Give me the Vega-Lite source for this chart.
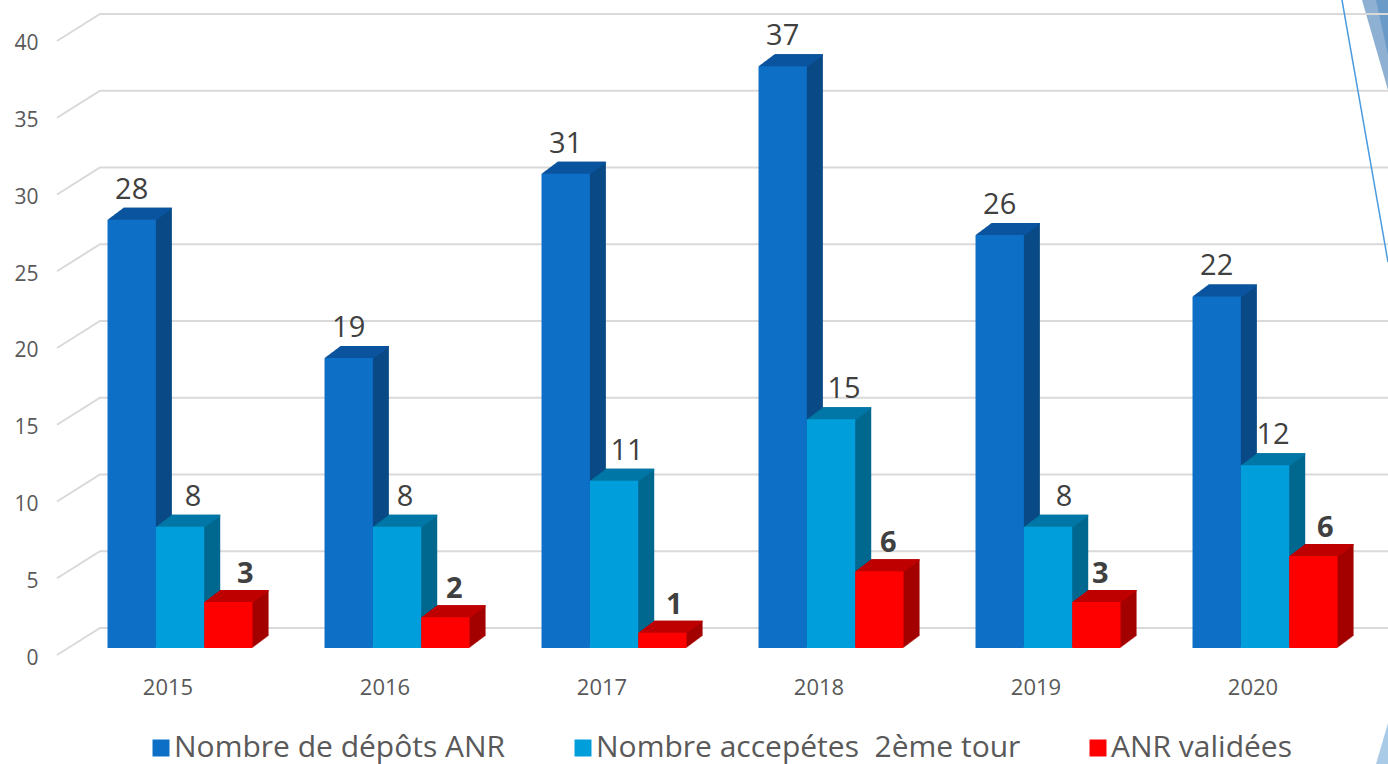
{"$schema":"https://vega.github.io/schema/vega-lite/v6.json","width":1331,"height":655,"autosize":{"type":"none"},"padding":{"left":57,"top":0,"right":0,"bottom":109},"background":"white","config":{"view":{"stroke":null},"font":"Open Sans","axisY":{"domain":false,"ticks":false,"grid":false,"labelPadding":19,"labelOffset":3,"labelFontSize":21,"labelColor":"#595959","labelFont":"Open Sans"},"rule":{"strokeWidth":48.4}},"datasets":{"bars":[{"annee":"2015","ordre":1,"serie":"Nombre de dépôts ANR","hauteur":27.9,"label":"28"},{"annee":"2015","ordre":2,"serie":"Nombre accepétes \u00a02ème tour","hauteur":7.9,"label":"8"},{"annee":"2015","ordre":3,"serie":"ANR validées","hauteur":3,"label":"3"},{"annee":"2016","ordre":1,"serie":"Nombre de dépôts ANR","hauteur":18.9,"label":"19"},{"annee":"2016","ordre":2,"serie":"Nombre accepétes \u00a02ème tour","hauteur":7.9,"label":"8"},{"annee":"2016","ordre":3,"serie":"ANR validées","hauteur":2,"label":"2"},{"annee":"2017","ordre":1,"serie":"Nombre de dépôts ANR","hauteur":30.9,"label":"31"},{"annee":"2017","ordre":2,"serie":"Nombre accepétes \u00a02ème tour","hauteur":10.9,"label":"11"},{"annee":"2017","ordre":3,"serie":"ANR validées","hauteur":1,"label":"1"},{"annee":"2018","ordre":1,"serie":"Nombre de dépôts ANR","hauteur":37.9,"label":"37"},{"annee":"2018","ordre":2,"serie":"Nombre accepétes \u00a02ème tour","hauteur":14.9,"label":"15"},{"annee":"2018","ordre":3,"serie":"ANR validées","hauteur":5,"label":"6"},{"annee":"2019","ordre":1,"serie":"Nombre de dépôts ANR","hauteur":26.9,"label":"26"},{"annee":"2019","ordre":2,"serie":"Nombre accepétes \u00a02ème tour","hauteur":7.9,"label":"8"},{"annee":"2019","ordre":3,"serie":"ANR validées","hauteur":3,"label":"3"},{"annee":"2020","ordre":1,"serie":"Nombre de dépôts ANR","hauteur":22.9,"label":"22"},{"annee":"2020","ordre":2,"serie":"Nombre accepétes \u00a02ème tour","hauteur":11.9,"label":"12"},{"annee":"2020","ordre":3,"serie":"ANR validées","hauteur":6,"label":"6"}]},"resolve":{"scale":{"x":"independent","xOffset":"independent"}},"layer":[{"layer":[{"data":{"values":[{"d":1305,"a":42.67,"b":42.67},{"d":1331,"a":42.67,"b":36.81}]},"mark":{"type":"area","color":"#8db0d3"},"encoding":{"x":{"field":"d","type":"quantitative","scale":{"domain":[0,1331],"range":[0,1331]},"axis":null},"y":{"field":"a","type":"quantitative","scale":{"domain":[0,42.67]},"axis":{"title":null,"values":[0,5,10,15,20,25,30,35,40]},"stack":null},"y2":{"field":"b"}}},{"data":{"values":[{"d":1319,"a":42.67,"b":42.67},{"d":1331,"a":42.67,"b":39.09}]},"mark":{"type":"area","color":"#6a9ac8"},"encoding":{"x":{"field":"d","type":"quantitative","scale":{"domain":[0,1331],"range":[0,1331]},"axis":null},"y":{"field":"a","type":"quantitative","scale":{"domain":[0,42.67]},"axis":{"title":null,"values":[0,5,10,15,20,25,30,35,40]},"stack":null},"y2":{"field":"b"}}},{"data":{"values":[{"d":1319,"a":-7.1,"b":-7.1},{"d":1331,"a":-4.43,"b":-7.1}]},"mark":{"type":"area","color":"#a9cbe8","clip":false},"encoding":{"x":{"field":"d","type":"quantitative","scale":{"domain":[0,1331],"range":[0,1331]},"axis":null},"y":{"field":"a","type":"quantitative","scale":{"domain":[0,42.67]},"axis":{"title":null,"values":[0,5,10,15,20,25,30,35,40]},"stack":null},"y2":{"field":"b"}}},{"data":{"values":[{"v":0,"d":0,"n":0},{"v":0,"d":43,"n":1.76},{"v":0,"d":1331,"n":1.76},{"v":5,"d":0,"n":5},{"v":5,"d":43,"n":6.76},{"v":5,"d":1331,"n":6.76},{"v":10,"d":0,"n":10},{"v":10,"d":43,"n":11.76},{"v":10,"d":1331,"n":11.76},{"v":15,"d":0,"n":15},{"v":15,"d":43,"n":16.76},{"v":15,"d":1331,"n":16.76},{"v":20,"d":0,"n":20},{"v":20,"d":43,"n":21.76},{"v":20,"d":1331,"n":21.76},{"v":25,"d":0,"n":25},{"v":25,"d":43,"n":26.76},{"v":25,"d":1331,"n":26.76},{"v":30,"d":0,"n":30},{"v":30,"d":43,"n":31.76},{"v":30,"d":1331,"n":31.76},{"v":35,"d":0,"n":35},{"v":35,"d":43,"n":36.76},{"v":35,"d":1331,"n":36.76},{"v":40,"d":0,"n":40},{"v":40,"d":43,"n":41.76},{"v":40,"d":1331,"n":41.76}]},"mark":{"type":"line","color":"#d9d9d9","strokeWidth":2},"encoding":{"x":{"field":"d","type":"quantitative","scale":{"domain":[0,1331],"range":[0,1331]},"axis":null},"y":{"field":"n","type":"quantitative","scale":{"domain":[0,42.67]},"axis":{"title":null,"values":[0,5,10,15,20,25,30,35,40]}},"detail":{"field":"v"}}},{"data":{"values":[{"d":1285,"n":42.67},{"d":1331,"n":25.6}]},"mark":{"type":"line","color":"#4a9be0","strokeWidth":1.5},"encoding":{"x":{"field":"d","type":"quantitative","scale":{"domain":[0,1331],"range":[0,1331]},"axis":null},"y":{"field":"n","type":"quantitative","scale":{"domain":[0,42.67]},"axis":{"title":null,"values":[0,5,10,15,20,25,30,35,40]}}}}]},{"data":{"name":"bars"},"resolve":{"scale":{"xOffset":"independent"}},"encoding":{"x":{"field":"annee","type":"nominal","scale":{"range":[14.5,1316.5],"paddingInner":0.332,"paddingOuter":0.166},"axis":{"title":null,"domain":false,"ticks":false,"labelAngle":0,"labelPadding":22,"labelOffset":-12,"labelFontSize":22,"labelColor":"#595959","labelFont":"Open Sans"}},"y":{"field":"hauteur","type":"quantitative","stack":null,"scale":{"domain":[0,42.67]},"axis":{"title":null,"values":[0,5,10,15,20,25,30,35,40]}}},"layer":[{"resolve":{"scale":{"xOffset":"independent"}},"encoding":{"y2":{"datum":0},"color":{"field":"serie","type":"nominal","legend":null,"scale":{"domain":["ANR validées","Nombre accepétes \u00a02ème tour","Nombre de dépôts ANR"],"range":["#a30000","#00688f","#0a4a86"]}}},"layer":[{"mark":{"type":"rule","yOffset":-19,"y2Offset":-19},"encoding":{"xOffset":{"field":"ordre","type":"ordinal","scale":{"range":[16,161]}}}},{"mark":{"type":"rule","yOffset":-18.25,"y2Offset":-18.25},"encoding":{"xOffset":{"field":"ordre","type":"ordinal","scale":{"range":[15,160]}}}},{"mark":{"type":"rule","yOffset":-17.5,"y2Offset":-17.5},"encoding":{"xOffset":{"field":"ordre","type":"ordinal","scale":{"range":[14,159]}}}},{"mark":{"type":"rule","yOffset":-16.75,"y2Offset":-16.75},"encoding":{"xOffset":{"field":"ordre","type":"ordinal","scale":{"range":[13,158]}}}},{"mark":{"type":"rule","yOffset":-16,"y2Offset":-16},"encoding":{"xOffset":{"field":"ordre","type":"ordinal","scale":{"range":[12,157]}}}},{"mark":{"type":"rule","yOffset":-15.25,"y2Offset":-15.25},"encoding":{"xOffset":{"field":"ordre","type":"ordinal","scale":{"range":[11,156]}}}},{"mark":{"type":"rule","yOffset":-14.5,"y2Offset":-14.5},"encoding":{"xOffset":{"field":"ordre","type":"ordinal","scale":{"range":[10,155]}}}},{"mark":{"type":"rule","yOffset":-13.75,"y2Offset":-13.75},"encoding":{"xOffset":{"field":"ordre","type":"ordinal","scale":{"range":[9,154]}}}},{"mark":{"type":"rule","yOffset":-13,"y2Offset":-13},"encoding":{"xOffset":{"field":"ordre","type":"ordinal","scale":{"range":[8,153]}}}},{"mark":{"type":"rule","yOffset":-12.25,"y2Offset":-12.25},"encoding":{"xOffset":{"field":"ordre","type":"ordinal","scale":{"range":[7,152]}}}},{"mark":{"type":"rule","yOffset":-11.5,"y2Offset":-11.5},"encoding":{"xOffset":{"field":"ordre","type":"ordinal","scale":{"range":[6,151]}}}},{"mark":{"type":"rule","yOffset":-10.75,"y2Offset":-10.75},"encoding":{"xOffset":{"field":"ordre","type":"ordinal","scale":{"range":[5,150]}}}},{"mark":{"type":"rule","yOffset":-10,"y2Offset":-10},"encoding":{"xOffset":{"field":"ordre","type":"ordinal","scale":{"range":[4,149]}}}},{"mark":{"type":"rule","yOffset":-9.25,"y2Offset":-9.25},"encoding":{"xOffset":{"field":"ordre","type":"ordinal","scale":{"range":[3,148]}}}},{"mark":{"type":"rule","yOffset":-8.5,"y2Offset":-8.5},"encoding":{"xOffset":{"field":"ordre","type":"ordinal","scale":{"range":[2,147]}}}},{"mark":{"type":"rule","yOffset":-7.75,"y2Offset":-7.75},"encoding":{"xOffset":{"field":"ordre","type":"ordinal","scale":{"range":[1,146]}}}}]},{"resolve":{"scale":{"xOffset":"independent"}},"encoding":{"y2":{"field":"hauteur"},"stroke":{"field":"serie","type":"nominal","legend":null,"scale":{"domain":["Nombre accepétes \u00a02ème tour","ANR validées","Nombre de dépôts ANR"],"range":["#0077a6","#bf0000","#0b559f"]}}},"layer":[{"mark":{"type":"rule","yOffset":-19,"y2Offset":-17.6},"encoding":{"xOffset":{"field":"ordre","type":"ordinal","scale":{"range":[16,161]}}}},{"mark":{"type":"rule","yOffset":-18.25,"y2Offset":-16.85},"encoding":{"xOffset":{"field":"ordre","type":"ordinal","scale":{"range":[15,160]}}}},{"mark":{"type":"rule","yOffset":-17.5,"y2Offset":-16.1},"encoding":{"xOffset":{"field":"ordre","type":"ordinal","scale":{"range":[14,159]}}}},{"mark":{"type":"rule","yOffset":-16.75,"y2Offset":-15.35},"encoding":{"xOffset":{"field":"ordre","type":"ordinal","scale":{"range":[13,158]}}}},{"mark":{"type":"rule","yOffset":-16,"y2Offset":-14.6},"encoding":{"xOffset":{"field":"ordre","type":"ordinal","scale":{"range":[12,157]}}}},{"mark":{"type":"rule","yOffset":-15.25,"y2Offset":-13.85},"encoding":{"xOffset":{"field":"ordre","type":"ordinal","scale":{"range":[11,156]}}}},{"mark":{"type":"rule","yOffset":-14.5,"y2Offset":-13.1},"encoding":{"xOffset":{"field":"ordre","type":"ordinal","scale":{"range":[10,155]}}}},{"mark":{"type":"rule","yOffset":-13.75,"y2Offset":-12.35},"encoding":{"xOffset":{"field":"ordre","type":"ordinal","scale":{"range":[9,154]}}}},{"mark":{"type":"rule","yOffset":-13,"y2Offset":-11.6},"encoding":{"xOffset":{"field":"ordre","type":"ordinal","scale":{"range":[8,153]}}}},{"mark":{"type":"rule","yOffset":-12.25,"y2Offset":-10.85},"encoding":{"xOffset":{"field":"ordre","type":"ordinal","scale":{"range":[7,152]}}}},{"mark":{"type":"rule","yOffset":-11.5,"y2Offset":-10.1},"encoding":{"xOffset":{"field":"ordre","type":"ordinal","scale":{"range":[6,151]}}}},{"mark":{"type":"rule","yOffset":-10.75,"y2Offset":-9.35},"encoding":{"xOffset":{"field":"ordre","type":"ordinal","scale":{"range":[5,150]}}}},{"mark":{"type":"rule","yOffset":-10,"y2Offset":-8.6},"encoding":{"xOffset":{"field":"ordre","type":"ordinal","scale":{"range":[4,149]}}}},{"mark":{"type":"rule","yOffset":-9.25,"y2Offset":-7.85},"encoding":{"xOffset":{"field":"ordre","type":"ordinal","scale":{"range":[3,148]}}}},{"mark":{"type":"rule","yOffset":-8.5,"y2Offset":-7.1},"encoding":{"xOffset":{"field":"ordre","type":"ordinal","scale":{"range":[2,147]}}}},{"mark":{"type":"rule","yOffset":-7.75,"y2Offset":-6.35},"encoding":{"xOffset":{"field":"ordre","type":"ordinal","scale":{"range":[1,146]}}}}]},{"mark":{"type":"bar","yOffset":-7,"y2Offset":-7},"encoding":{"xOffset":{"field":"ordre","type":"ordinal","scale":{"range":[0,145]}},"y2":{"datum":0},"fill":{"field":"serie","type":"nominal","scale":{"domain":["Nombre de dépôts ANR","Nombre accepétes \u00a02ème tour","ANR validées"],"range":["#0e6fc7","#009fdb","#ff0000"]},"legend":{"title":null,"orient":"none","legendX":89,"legendY":733,"padding":0,"direction":"horizontal","columns":3,"symbolType":"square","symbolSize":289,"symbolStrokeWidth":0,"labelFontSize":30,"labelFont":"Open Sans","labelColor":"#595959","labelOffset":-2,"columnPadding":62,"labelLimit":600}}}},{"transform":[{"filter":"datum.ordre == 1"}],"mark":{"type":"text","yOffset":-37,"fontSize":29,"color":"#404040","font":"Open Sans"},"encoding":{"xOffset":{"field":"ordre","type":"ordinal","scale":{"domain":[1,2,3],"range":[0,145]}},"text":{"field":"label"}}},{"transform":[{"filter":"datum.ordre == 2 && (datum.annee == '2015' || datum.annee == '2017' || datum.annee == '2018')"}],"mark":{"type":"text","yOffset":-37,"fontSize":29,"color":"#404040","font":"Open Sans"},"encoding":{"xOffset":{"field":"ordre","type":"ordinal","scale":{"domain":[1,2,3],"range":[13,158]}},"text":{"field":"label"}}},{"transform":[{"filter":"datum.ordre == 2 && (datum.annee == '2016' || datum.annee == '2020')"}],"mark":{"type":"text","yOffset":-37,"fontSize":29,"color":"#404040","font":"Open Sans"},"encoding":{"xOffset":{"field":"ordre","type":"ordinal","scale":{"domain":[1,2,3],"range":[8,153]}},"text":{"field":"label"}}},{"transform":[{"filter":"datum.ordre == 2 && datum.annee == '2019'"}],"mark":{"type":"text","yOffset":-37,"fontSize":29,"color":"#404040","font":"Open Sans"},"encoding":{"xOffset":{"field":"ordre","type":"ordinal","scale":{"domain":[1,2,3],"range":[16,161]}},"text":{"field":"label"}}},{"transform":[{"filter":"datum.ordre == 3 && datum.annee == '2015'"}],"mark":{"type":"text","yOffset":-35,"fontSize":29,"fontWeight":"bold","color":"#404040","font":"Open Sans"},"encoding":{"xOffset":{"field":"ordre","type":"ordinal","scale":{"domain":[1,2,3],"range":[17,162]}},"text":{"field":"label"}}},{"transform":[{"filter":"datum.ordre == 3 && (datum.annee == '2016' || datum.annee == '2018')"}],"mark":{"type":"text","yOffset":-35,"fontSize":29,"fontWeight":"bold","color":"#404040","font":"Open Sans"},"encoding":{"xOffset":{"field":"ordre","type":"ordinal","scale":{"domain":[1,2,3],"range":[9,154]}},"text":{"field":"label"}}},{"transform":[{"filter":"datum.ordre == 3 && (datum.annee == '2017' || datum.annee == '2020')"}],"mark":{"type":"text","yOffset":-35,"fontSize":29,"fontWeight":"bold","color":"#404040","font":"Open Sans"},"encoding":{"xOffset":{"field":"ordre","type":"ordinal","scale":{"domain":[1,2,3],"range":[12,157]}},"text":{"field":"label"}}},{"transform":[{"filter":"datum.ordre == 3 && datum.annee == '2019'"}],"mark":{"type":"text","yOffset":-35,"fontSize":29,"fontWeight":"bold","color":"#404040","font":"Open Sans"},"encoding":{"xOffset":{"field":"ordre","type":"ordinal","scale":{"domain":[1,2,3],"range":[4,149]}},"text":{"field":"label"}}}]}]}
